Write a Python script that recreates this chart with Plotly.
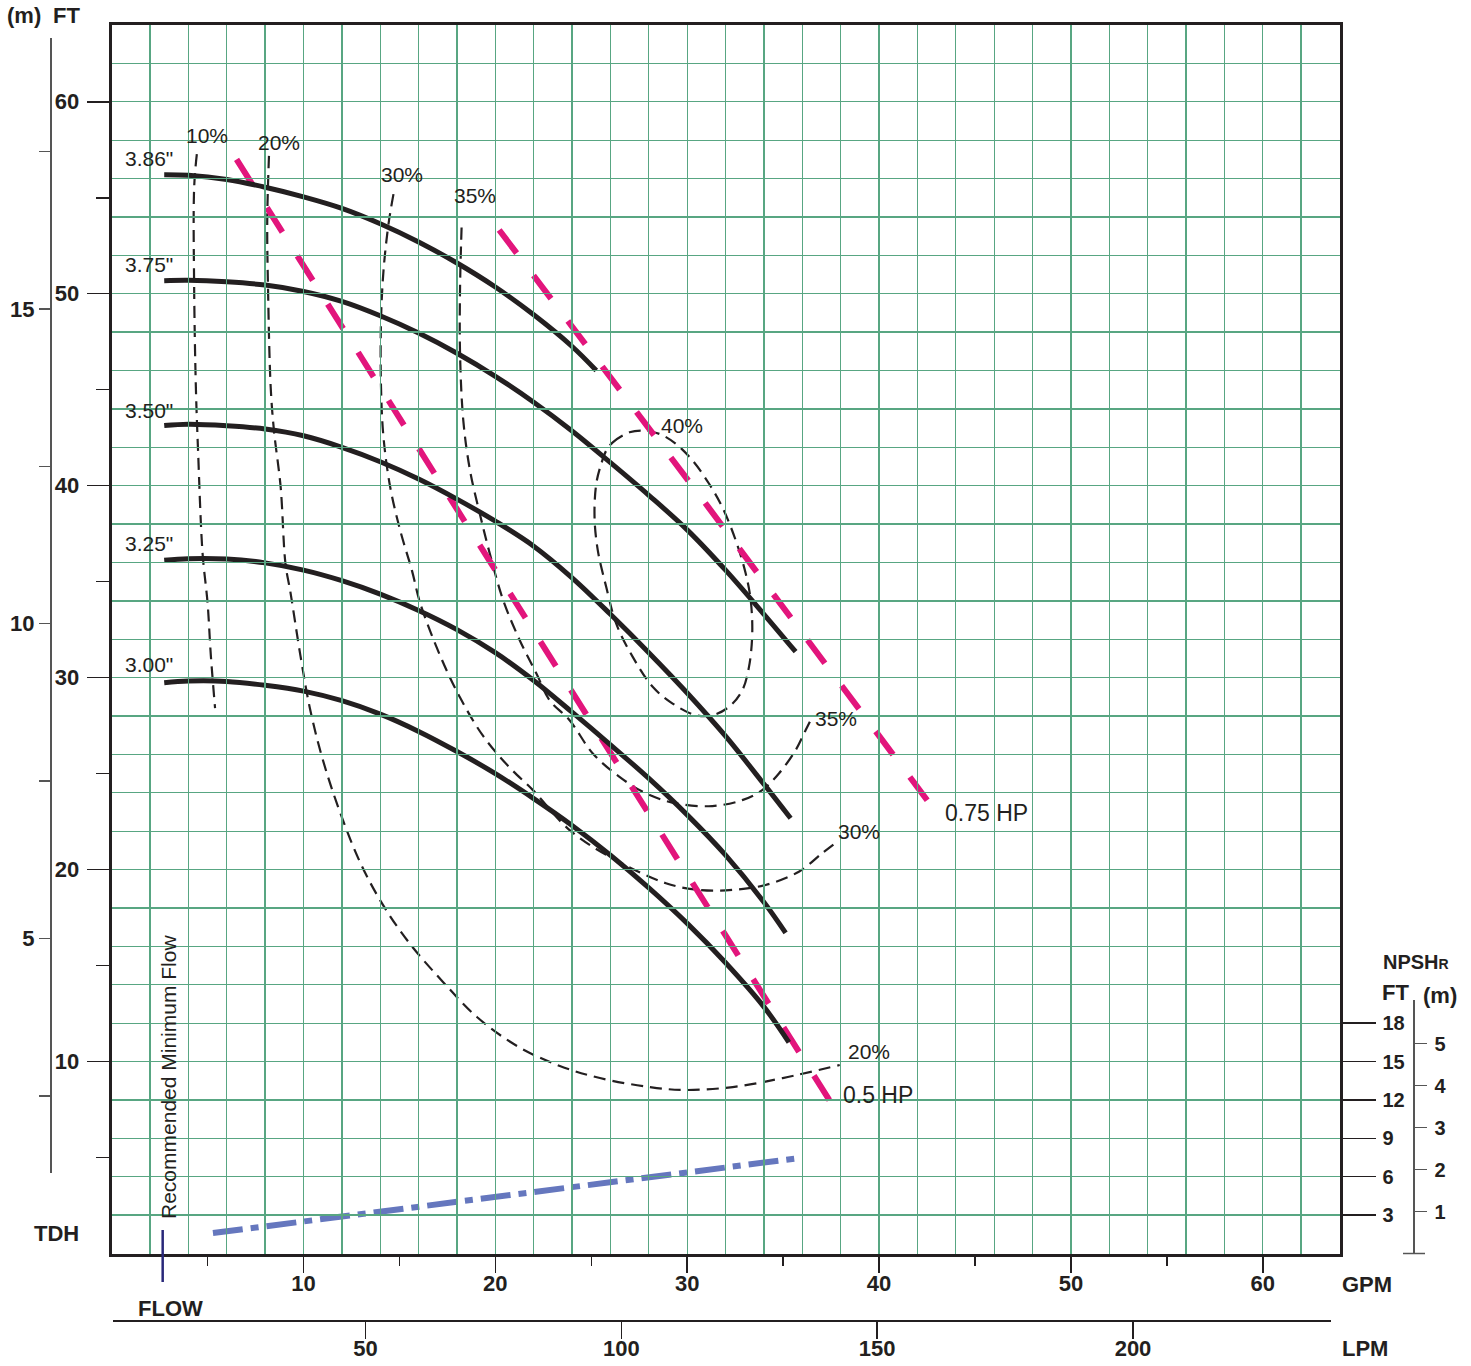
# %%
import plotly.graph_objects as go

# %% Head curves (flow GPM, head FT)
dia_labels = ['3.86"', '3.75"', '3.50"', '3.25"', '3.00"']

q_386 = [2.74, 4, 6, 8, 10, 12, 14, 16, 18, 20, 22, 24, 25.26]
h_386 = [56.2, 56.17, 55.95, 55.55, 55.05, 54.45, 53.65, 52.7, 51.6, 50.35, 48.9, 47.25, 46.0]

q_375 = [2.74, 4, 6, 8, 10, 12, 14, 16, 18, 20, 22, 24, 26, 28, 30, 32, 34, 35.65]
h_375 = [50.68, 50.7, 50.62, 50.45, 50.12, 49.6, 48.85, 47.95, 46.9, 45.7, 44.35, 42.85, 41.2, 39.5, 37.7,
         35.6, 33.3, 31.35]

q_350 = [2.74, 4, 6, 8, 10, 12, 14, 16, 18, 20, 22, 24, 26, 28, 30, 32, 34, 35.39]
h_350 = [43.13, 43.2, 43.12, 42.95, 42.6, 42.0, 41.25, 40.35, 39.3, 38.15, 36.85, 35.2, 33.3, 31.3, 29.2,
         26.95, 24.45, 22.67]

q_325 = [2.74, 4, 6, 8, 10, 12, 14, 16, 18, 20, 22, 24, 26, 28, 30, 32, 34, 35.13]
h_325 = [36.12, 36.2, 36.18, 35.98, 35.6, 35.05, 34.35, 33.5, 32.5, 31.3, 29.85, 28.2, 26.5, 24.75, 22.85,
         20.75, 18.3, 16.7]

q_300 = [2.74, 4, 6, 8, 10, 12, 14, 16, 18, 20, 22, 24, 26, 28, 30, 32, 34, 35.3]
h_300 = [29.73, 29.82, 29.8, 29.6, 29.3, 28.8, 28.1, 27.2, 26.15, 25.0, 23.7, 22.3, 20.75, 19.05, 17.2,
         15.15, 12.85, 11.0]

# %% Efficiency contours
eff10_q = [4.44, 4.30, 4.30, 4.39, 4.51, 4.74, 5.00, 5.17, 5.39]
eff10_h = [57.27, 55.53, 50.33, 45.13, 41.66, 36.46, 33.89, 31.15, 28.41]

eff20_q = [8.2, 8.11, 8.15, 8.29, 8.46, 8.81, 9.06, 9.32, 9.84, 10.33, 11.01, 11.9, 12.94, 14.14, 15.55,
           17.27, 19.04, 21.13, 23.36, 25.45, 28.06, 29.78, 32.37, 34.98, 37.95]
eff20_h = [57.18, 53.8, 50.33, 45.13, 42.87, 39.92, 35.94, 34.44, 31.15, 28.42, 25.71, 23.0, 20.4, 18.16, 16.13,
           14.15, 12.32, 10.81, 9.77, 9.14, 8.67, 8.52, 8.67, 9.14, 9.82]

eff30_q = [14.69, 14.43, 14.17, 14.04, 14.04, 14.17, 14.52, 15.04, 15.65, 16.08, 17.12, 18.16, 19.37,
           20.75, 21.96, 23.87, 25.95, 28.89, 30.62, 32.35, 34.09, 35.82, 37.03, 37.81]
eff30_h = [55.19, 53.63, 51.2, 48.6, 45.13, 42.52, 39.92, 37.67, 35.59, 33.89, 31.15, 28.96, 26.95,
           25.31, 24.14, 22.06, 20.67, 19.29, 18.94, 18.94, 19.2, 19.89, 20.85, 21.45]

eff35_q = [18.24, 18.16, 18.16, 18.33, 18.68, 19.19, 19.71, 20.41, 21.27, 22.14, 22.83, 23.87, 25.08,
           26.47, 27.85, 29.41, 31.31, 32.87, 33.91, 34.78, 35.65, 36.17, 36.43]
eff35_h = [53.45, 50.33, 46.86, 43.39, 40.79, 38.54, 36.46, 34.03, 31.95, 30.21, 28.82, 27.78, 26.05,
           24.83, 23.97, 23.45, 23.31, 23.62, 24.14, 25.01, 26.22, 27.26, 27.78]

eff40_q = [25.78, 26.12, 26.99, 27.68, 28.55, 29.41, 30.28, 31.14, 31.83, 32.53, 33.05, 33.31, 33.39,
           33.22, 32.87, 32.18, 31.31, 30.45, 29.24, 28.2, 27.16, 26.3, 25.78, 25.34, 25.17, 25.26, 25.52, 25.78]
eff40_h = [41.83, 42.26, 42.78, 42.87, 42.7, 42.18, 41.31, 40.1, 38.88, 37.15, 35.42, 34.03, 32.29,
           30.56, 29.34, 28.48, 28.04, 28.04, 28.65, 29.52, 31.08, 32.81, 34.72, 36.63, 38.36, 40.1, 41.14, 41.83]

# %% Horsepower lines
hp05_q = [6.51, 25.79, 37.68]
hp05_h = [57.0, 26.49, 7.56]
hp075_q = [20.2, 31.08, 42.72]
hp075_h = [53.32, 38.91, 23.33]

# %% NPSHr (FT) and minimum flow
npsh_q = [5.28, 35.86]
npsh_ft = [1.6, 7.46]
min_flow_gpm = 2.66

# %% Axis ticks
gpm_ticks = [10, 20, 30, 40, 50, 60]
gpm_minor = [5, 15, 25, 35, 45, 55]
lpm_ticks = [50, 100, 150, 200]
ft_ticks = [10, 20, 30, 40, 50, 60]
ft_minor = [5, 15, 25, 35, 45, 55]
m_ticks = [2.5, 5, 7.5, 10, 12.5, 15, 17.5]
m_text = ["", "5", "", "10", "", "15", ""]
npsh_ticks = [3, 6, 9, 12, 15, 18]
npsh_m_ticks = [1, 2, 3, 4, 5]

# %% figure
W, H = 1460, 1364
ink = "#231F20"
grid = "rgb(88,166,130)"
magenta = "#E2157C"
font = "Arial, Liberation Sans, sans-serif"


def px(x):
    return x / W


def py(y):
    return 1 - y / H


def ft_at(y):
    return (1253.5 - y) / 19.195


fig = go.Figure()

# efficiency contours
for q, h in [(eff10_q, eff10_h), (eff20_q, eff20_h), (eff30_q, eff30_h), (eff35_q, eff35_h), (eff40_q, eff40_h)]:
    fig.add_trace(go.Scatter(x=q, y=h, mode="lines",
                             line=dict(color=ink, width=2.2, dash="12px,7px", shape="spline", smoothing=1.0),
                             hoverinfo="skip"))

# power lines
for q, h in [(hp05_q, hp05_h), (hp075_q, hp075_h)]:
    fig.add_trace(go.Scatter(x=q, y=h, mode="lines",
                             line=dict(color=magenta, width=6, dash="29px,28px"), hoverinfo="skip"))

# head curves
for q, h in [(q_386, h_386), (q_375, h_375), (q_350, h_350), (q_325, h_325), (q_300, h_300)]:
    fig.add_trace(go.Scatter(x=q, y=h, mode="lines",
                             line=dict(color=ink, width=5, shape="spline", smoothing=1.0), hoverinfo="skip"))

# NPSHr
fig.add_trace(go.Scatter(x=npsh_q, y=npsh_ft, mode="lines", yaxis="y3",
                         line=dict(color="#6577BE", width=6, dash="30px,8px,8px,8px"), hoverinfo="skip"))

# empty traces so the extra scales get drawn
for xa, ya in [("x2", "y"), ("x", "y2"), ("x3", "y"), ("x", "y4"), ("x", "y5")]:
    fig.add_trace(go.Scatter(x=[], y=[], xaxis=xa, yaxis=ya, hoverinfo="skip"))

bold22 = dict(family=font, size=22, color=ink, weight="bold")
bold20 = dict(family=font, size=20, color=ink, weight="bold")

fig.update_layout(
    width=W, height=H, margin=dict(l=0, r=0, t=0, b=0),
    plot_bgcolor="rgba(0,0,0,0)", paper_bgcolor="white", showlegend=False,
    xaxis=dict(domain=[px(111.65), px(1339.5)], range=[0, 64], dtick=2, showgrid=True,
               gridcolor=grid, gridwidth=1.3, showticklabels=False, ticks="", zeroline=False,
               showline=True, mirror=True, linecolor=ink, linewidth=3),
    yaxis=dict(domain=[py(1253.5), py(25)], range=[0, 64], dtick=2, showgrid=True,
               gridcolor=grid, gridwidth=1.3, showticklabels=False, ticks="", zeroline=False,
               showline=True, mirror=True, linecolor=ink, linewidth=3),
    xaxis2=dict(overlaying="x", anchor="y", side="bottom", range=[0, 64], tickvals=gpm_ticks,
                ticks="outside", ticklen=18, tickwidth=1.5, tickcolor=ink, tickfont=bold22, ticklabelstandoff=-8,
                minor=dict(tickvals=gpm_minor, ticks="outside", ticklen=11, tickwidth=1.5, tickcolor=ink),
                showgrid=False, zeroline=False, showline=False),
    yaxis2=dict(overlaying="y", anchor="x", side="left", range=[0, 64], tickvals=ft_ticks,
                ticks="outside", ticklen=24, tickwidth=1.5, tickcolor=ink, tickfont=bold22, ticklabelstandoff=3,
                minor=dict(tickvals=ft_minor, ticks="outside", ticklen=15, tickwidth=1.5, tickcolor=ink),
                showgrid=False, zeroline=False, showline=False),
    yaxis3=dict(overlaying="y", anchor="x", side="right", range=[0, 96], tickvals=npsh_ticks,
                ticks="outside", ticklen=35, tickwidth=1.5, tickcolor=ink, tickfont=bold20, ticklabelstandoff=3,
                showgrid=False, zeroline=False, showline=False),
    xaxis3=dict(anchor="free", position=py(1320), domain=[px(113), px(1331)],
                range=[(113 - 109.8) / 5.116, (1331 - 109.8) / 5.116], tickvals=lpm_ticks, ticklabelstandoff=-9,
                ticks="outside", ticklen=17, tickwidth=1.5, tickcolor=ink, tickfont=bold22,
                showline=True, linecolor=ink, linewidth=1.5, showgrid=False, zeroline=False),
    yaxis4=dict(anchor="free", position=px(50), side="left", domain=[py(1173), py(38)],
                range=[ft_at(1173) / 3.281, ft_at(38) / 3.281], tickvals=m_ticks, ticktext=m_text,
                ticks="outside", ticklen=11, tickwidth=1.5, tickcolor="#555", tickfont=bold22,
                showline=True, linecolor="#555", linewidth=1.5, showgrid=False, zeroline=False),
    yaxis5=dict(anchor="free", position=px(1413), side="right", domain=[py(1253.5), py(1000)],
                range=[0, ft_at(1000) * 1.5 / 3.281], tickvals=npsh_m_ticks, ticklabelstandoff=4,
                ticks="outside", ticklen=12, tickwidth=1.5, tickcolor="#555", tickfont=bold20,
                showline=True, linecolor="#555", linewidth=1.5, showgrid=False, zeroline=False),
)

# bottom cap of the NPSH metre scale and minimum-flow marker
fig.add_shape(type="line", xref="paper", yref="paper", x0=px(1403), x1=px(1425), y0=py(1253.5), y1=py(1253.5),
              line=dict(color="#555", width=1.5))
fig.add_shape(type="line", xref="x", yref="paper", x0=min_flow_gpm, x1=min_flow_gpm, y0=py(1282), y1=py(1230),
              line=dict(color="#29287A", width=2.5))

# %% labels
reg = dict(family=font, size=21, color=ink)
for lab, y in zip(dia_labels, [57.02, 51.5, 43.91, 37.0, 30.71]):
    fig.add_annotation(x=1.93, y=y, text=lab, showarrow=False, font=reg, xanchor="center", yanchor="middle")

eff_labels = [("10%", 4.97, 58.23), ("20%", 8.73, 57.87), ("30%", 15.15, 56.19), ("35%", 18.93, 55.1),
              ("40%", 29.73, 43.16), ("35%", 37.76, 27.85), ("30%", 38.95, 21.97), ("20%", 39.47, 10.51)]
for lab, x, y in eff_labels:
    fig.add_annotation(x=x, y=y, text=lab, showarrow=False, font=reg, xanchor="center", yanchor="middle")

fig.add_annotation(x=43.31, y=22.95, text="0.75 HP", showarrow=False, xanchor="left",
                   font=dict(family=font, size=23, color=ink))
fig.add_annotation(x=38.03, y=8.26, text="0.5 HP", showarrow=False, xanchor="left",
                   font=dict(family=font, size=23, color=ink))
fig.add_annotation(x=(168 - 111.65) / 19.195, y=ft_at(1077), text="Recommended Minimum Flow", textangle=-90,
                   showarrow=False, font=reg)

page_text = [("(m)", 24, 16), ("FT", 66, 16), ("TDH", 56, 1233), ("FLOW", 170, 1308), ("GPM", 1367, 1284),
             ("LPM", 1365, 1348), ("FT", 1395, 992), ("(m)", 1440, 995)]
for t, x, y in page_text:
    fig.add_annotation(xref="paper", yref="paper", x=px(x), y=py(y), text=t, showarrow=False, font=bold22,
                       xanchor="center", yanchor="middle")
fig.add_annotation(xref="paper", yref="paper", x=px(1381), y=py(962),
                   text="NPSH<span style='font-size:14px'>R</span>", showarrow=False, font=bold20,
                   xanchor="left", yanchor="middle")

fig.write_html("out.html", config={"displayModeBar": False, "staticPlot": True},
               post_script="document.body.style.margin='0';")
